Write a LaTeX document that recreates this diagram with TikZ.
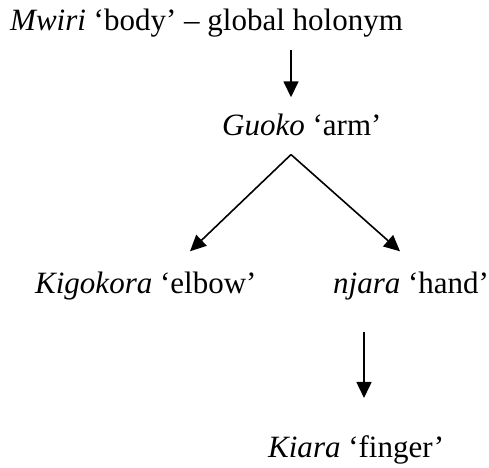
\documentclass[tikz,border=0pt]{standalone}
\usepackage{fontspec}
\setmainfont{Liberation Serif}
\usetikzlibrary{arrows.meta,calc}

\begin{document}
\begin{tikzpicture}
[
    x=1pt,y=1pt,
    term/.style={anchor=base west,inner sep=0pt,font=\fontsize{31}{37}\selectfont},
    link/.style={line width=1.6pt,-{Triangle[length=16pt,width=15pt]}}
]
\useasboundingbox (0,0) rectangle (489,467);

\node (body) at (10,436) [term] {\textit{Mwiri} `body' -- global holonym};
\node (arm) at (222,332) [term] {\textit{Guoko} `arm'};
\node (elbow) at (35,174) [term] {\textit{Kigokora} `elbow'};
\node (hand) at (333,174) [term] {\textit{njara} `hand'};
\node (finger) at (268,10) [term] {\textit{Kiara} `finger'};

% arm splits into elbow and hand
\coordinate (fork) at ($(arm.south west)+(69,-19)$);

\draw[link] ($(body.south west)+(281,-12)$) -- ($(arm.north west)+(69,16)$);
\draw[link] (fork) -- ($(elbow.north west)+(155,20)$);
\draw[link] (fork) -- ($(hand.north west)+(67,20)$);
\draw[link] ($(hand.south west)+(31,-32)$) -- ($(finger.north west)+(96,37)$);
\end{tikzpicture}
\end{document}
